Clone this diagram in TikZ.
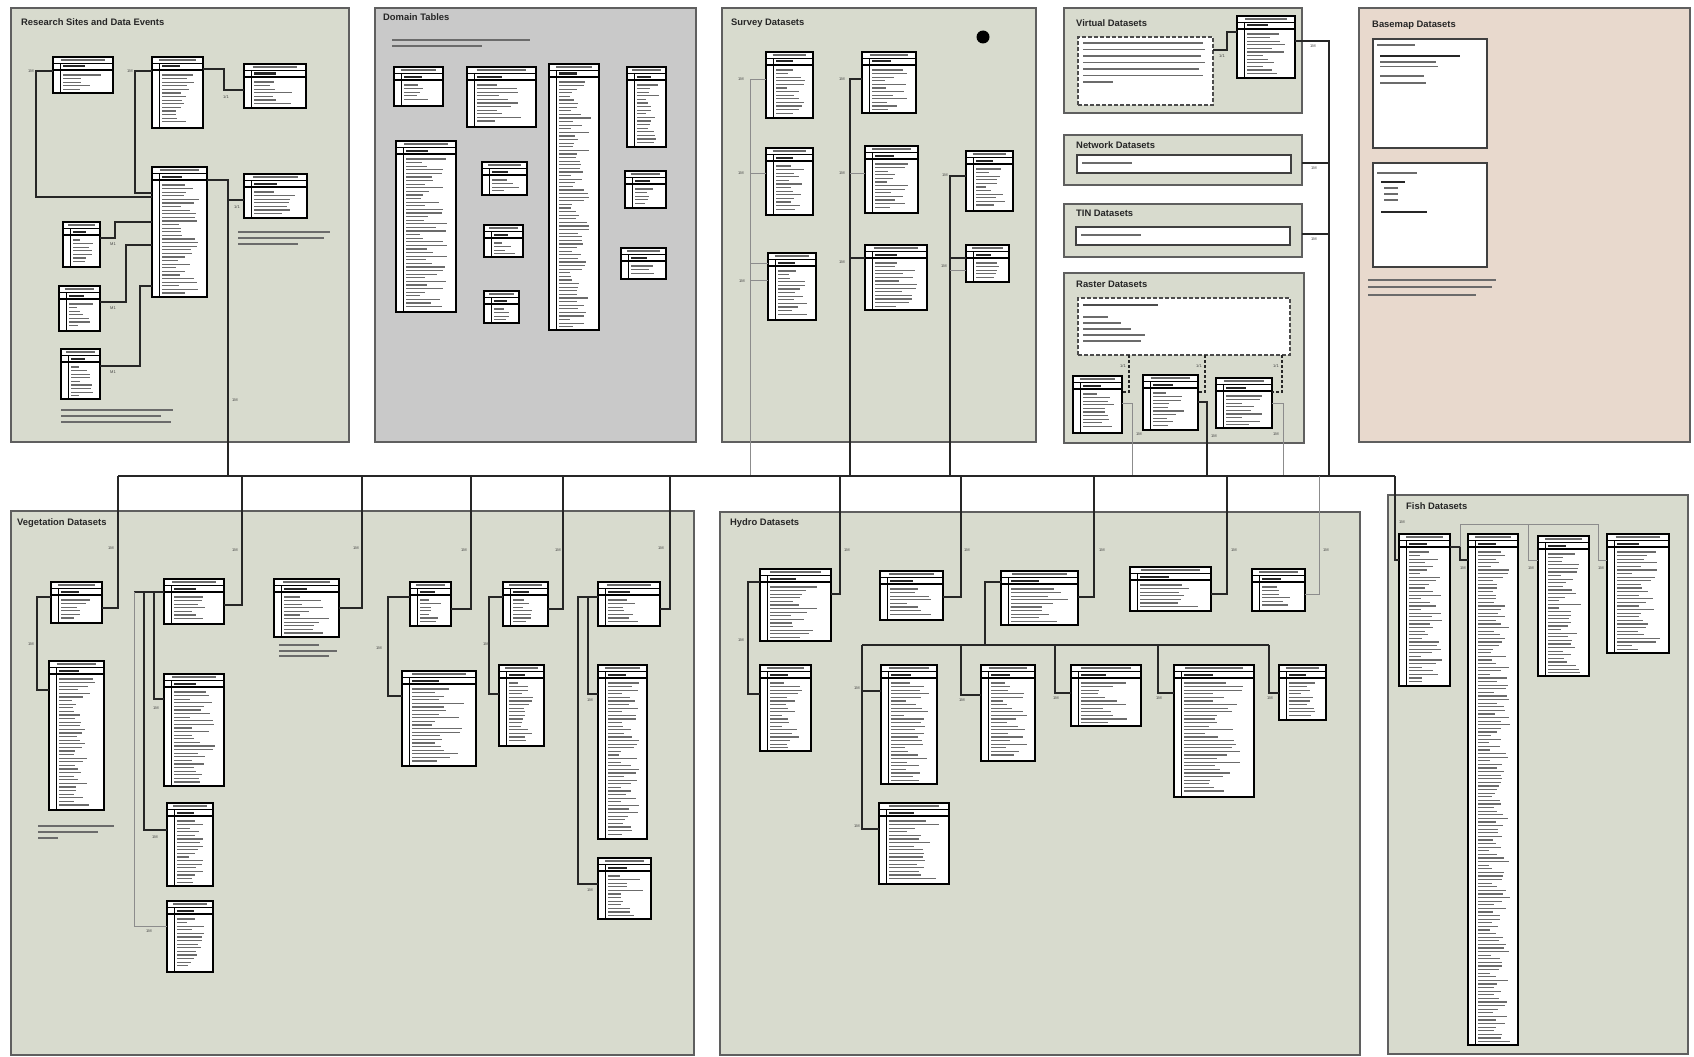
\documentclass[tikz,border=0pt]{standalone}
\usepackage{fontspec}
\setmainfont{Liberation Sans}
\usetikzlibrary{calc}
\definecolor{panelgreen}{RGB}{216,219,206}
\definecolor{domaingray}{RGB}{201,201,201}
\definecolor{basepink}{RGB}{232,217,205}
\definecolor{edgegray}{RGB}{95,95,95}
\tikzset{
  panel/.style={draw=edgegray, line width=1.6pt, inner sep=0pt, outer sep=0pt},
  ptitle/.style={anchor=north west, inner sep=0pt, font=\bfseries\fontsize{9.4}{11}\selectfont, text=black!85},
  tbox/.style={draw=black, line width=1.6pt, fill=white, inner sep=0pt, outer sep=0pt},
  txt/.style={line width=1.1pt, draw=black!58},
  conn/.style={draw=black!85, line width=1.1pt},
  lconn/.style={draw=black!45, line width=0.8pt},
  card/.style={font=\fontsize{4}{4}\selectfont, inner sep=0.5pt, text=black!75},
  wbox/.style={draw=black!75, line width=1.4pt, fill=white, inner sep=0pt, outer sep=0pt, anchor=north west},
  dnote/.style={draw=black!70, line width=1.4pt, dash pattern=on 4pt off 2pt, fill=white, inner sep=0pt, outer sep=0pt, anchor=north west},
}
\newcommand{\pnl}[6]{%
  \node[panel, fill=#6, anchor=north west, minimum width={(#4-#2)*1pt}, minimum height={(#5-#3)*1pt}] (#1) at (#2,#3) {};}
\newcommand{\tbl}[5]{%
  \node[tbox, anchor=north west, minimum width={(#4-#2)*1pt}, minimum height={(#5-#3)*1pt}] (#1) at (#2,#3) {};
  \draw[line width=0.7pt] (#2,#3+6) -- (#4,#3+6);
  \draw[line width=1.2pt] (#2,#3+13) -- (#4,#3+13);
  \draw[line width=0.7pt] (#2+7,#3+6) -- (#2+7,#5);
  \pgfmathsetmacro{\tblmid}{(#2+#4)/2}
  \pgfmathsetmacro{\tblhw}{(#4-#2)*0.36}
  \draw[txt, line width=1.2pt] (\tblmid-\tblhw,#3+3) -- (\tblmid+\tblhw,#3+3);
  \draw[line width=2pt, black!85] (#2+10,#3+9.5) -- (#2+10+\tblhw,#3+9.5);
  \pgfmathsetmacro{\tblya}{#3+18}
  \pgfmathsetmacro{\tblyb}{#3+21.6}
  \pgfmathsetmacro{\tblyc}{#5-3}
  \pgfmathsetmacro{\tblw}{#4-#2-14}
  \foreach \yy in {\tblya,\tblyb,...,\tblyc}{%
    \pgfmathsetmacro{\tbll}{\tblw*(0.3+0.6*rnd)}
    \draw[txt] (#2+10,\yy) -- ++(\tbll,0);
  }
}
\newcommand{\tl}[3]{\draw[txt] (#1,#2) -- ++(#3,0);}
\newcommand{\card}[4]{\node[card] (#1) at (#2,#3) {#4};}
\begin{document}
\begin{tikzpicture}[x=1pt,y=-1pt]
\pgfmathsetseed{7}
\useasboundingbox (0,0) rectangle (1694,1057);
\fill[white] (0,0) rectangle (1694,1057);

% ---------------- panels
\pnl{pResearch}{11}{8}{349}{442}{panelgreen}
\pnl{pDomain}{375}{8}{696}{442}{domaingray}
\pnl{pSurvey}{722}{8}{1036}{442}{panelgreen}
\pnl{pVirtual}{1064}{8}{1302}{113}{panelgreen}
\pnl{pNetwork}{1064}{135}{1302}{185}{panelgreen}
\pnl{pTIN}{1064}{204}{1302}{257}{panelgreen}
\pnl{pRaster}{1064}{273}{1304}{443}{panelgreen}
\pnl{pBasemap}{1359}{8}{1690}{442}{basepink}
\pnl{pVeg}{11}{511}{694}{1055}{panelgreen}
\pnl{pHydro}{720}{512}{1360}{1055}{panelgreen}
\pnl{pFish}{1388}{495}{1688}{1054}{panelgreen}

\node[ptitle] (tResearch) at (21,18) {Research Sites and Data Events};
\node[ptitle] (tDomain) at (383,13) {Domain Tables};
\node[ptitle] (tSurvey) at (731,19) {Survey Datasets};
\node[ptitle] (tVirtual) at (1076,19) {Virtual Datasets};
\node[ptitle] (tNetwork) at (1076,141) {Network Datasets};
\node[ptitle] (tTIN) at (1076,210) {TIN Datasets};
\node[ptitle] (tRaster) at (1076,281) {Raster Datasets};
\node[ptitle] (tBasemap) at (1372,21) {Basemap Datasets};
\node[ptitle] (tVeg) at (17,518) {Vegetation Datasets};
\node[ptitle] (tHydro) at (730,518) {Hydro Datasets};
\node[ptitle] (tFish) at (1406,502) {Fish Datasets};

% ---------------- Research sites
\tbl{rsA}{53}{57}{113}{93}
\tbl{rsB}{152}{57}{203}{128}
\tbl{rsC}{244}{64}{306}{108}
\tbl{rsD}{152}{167}{207}{297}
\tbl{rsE}{244}{174}{307}{218}
\tbl{rsF}{63}{222}{100}{267}
\tbl{rsG}{59}{286}{100}{331}
\tbl{rsH}{61}{349}{100}{399}
\draw[conn] (rsA.west |- 0,71) -- (36,71) -- (36,197) -- (rsD.west |- 0,197);
\card{c1}{31}{71}{1M}
\draw[conn] (rsB.west |- 0,71) -- (135,71) -- (135,193) -- (rsD.west |- 0,193);
\card{c2}{130}{71}{1M}
\draw[conn] (rsB.east |- 0,69) -- (224,69) -- (224,90) -- (rsC.west |- 0,90);
\card{c3}{226}{97}{1/1}
\draw[conn] (rsD.east |- 0,180) -- (228,180) -- (228,200) -- (rsE.west |- 0,200);
\card{c4}{237}{207}{1/1}
\draw[conn] (rsF.east |- 0,238) -- (115,238) -- (115,222) -- (rsD.west |- 0,222);
\card{c5}{113}{244}{M1}
\draw[conn] (rsG.east |- 0,302) -- (126,302) -- (126,245) -- (rsD.west |- 0,245);
\card{c6}{113}{308}{M1}
\draw[conn] (rsH.east |- 0,366) -- (140,366) -- (140,286) -- (rsD.west |- 0,286);
\card{c7}{113}{372}{M1}
\tl{238}{232}{92}\tl{238}{238}{86}\tl{238}{244}{60}
\tl{61}{410}{112}\tl{61}{416}{100}\tl{61}{422}{110}

% ---------------- Domain tables
\tl{392}{40}{138}\tl{392}{46}{90}
\tbl{dA}{394}{67}{443}{106}
\tbl{dB}{467}{67}{536}{127}
\tbl{dC}{549}{64}{599}{330}
\tbl{dD}{627}{67}{666}{147}
\tbl{dE}{396}{141}{456}{312}
\tbl{dF}{482}{162}{527}{195}
\tbl{dG}{484}{225}{523}{257}
\tbl{dH}{484}{291}{519}{323}
\tbl{dI}{625}{171}{666}{208}
\tbl{dJ}{621}{248}{666}{279}

% ---------------- Survey
\fill[black] (983,37) circle (6.5);
\node[inner sep=0pt] (dot) at (983,37) {};
\tbl{sA}{766}{52}{813}{118}
\tbl{sB}{766}{148}{813}{215}
\tbl{sC}{768}{253}{816}{320}
\tbl{sD}{862}{52}{916}{113}
\tbl{sE}{865}{146}{918}{213}
\tbl{sF}{865}{245}{927}{310}
\tbl{sG}{966}{151}{1013}{211}
\tbl{sH}{966}{245}{1009}{282}
\draw[lconn] (sA.west |- 0,79) -- (750,79) -- (750,476);
\draw[lconn] (sB.west |- 0,173) -- (750,173);
\draw[lconn] (sC.west |- 0,263) -- (750,263);
\draw[lconn] (sC.west |- 0,280) -- (750,280);
\card{c8}{741}{79}{1M}\card{c9}{741}{173}{1M}\card{c10}{742}{281}{1M}
\draw[conn] (sD.west |- 0,79) -- (850,79) -- (850,476);
\draw[lconn] (sE.west |- 0,173) -- (850,173);
\draw[conn] (sF.west |- 0,258) -- (850,258);
\card{c11}{842}{79}{1M}\card{c12}{842}{173}{1M}\card{c13}{842}{262}{1M}
\draw[conn] (sG.west |- 0,176) -- (950,176) -- (950,476);
\draw[conn] (sH.west |- 0,258) -- (950,258);
\draw[lconn] (sH.west |- 0,270) -- (950,270);
\card{c14}{945}{175}{1M}\card{c15}{944}{266}{1M}

% ---------------- Virtual / Network / TIN
\node[dnote, minimum width=135pt, minimum height=68pt] (vnote) at (1078,37) {};
\tl{1083}{43}{120}\tl{1083}{49.5}{122}\tl{1083}{56}{118}\tl{1083}{62.5}{122}\tl{1083}{69}{116}\tl{1083}{75.5}{120}\tl{1083}{82}{30}
\tbl{vT}{1237}{16}{1295}{78}
\draw[conn] (vnote.east |- 0,50) -- (1227,50) -- (1227,32) -- (vT.west |- 0,32);
\card{c16}{1222}{56}{1/1}
\draw[conn] (vT.east |- 0,41) -- (1329,41) -- (1329,476);
\card{c17}{1313}{46}{1M}
\node[wbox, minimum width=214pt, minimum height=18pt] (netbox) at (1077,155) {};
\tl{1082}{163}{50}
\draw[conn] (pNetwork.east |- 0,163) -- (1329,163);
\card{c18}{1314}{168}{1M}
\node[wbox, minimum width=214pt, minimum height=18pt] (tinbox) at (1076,227) {};
\tl{1081}{235}{60}
\draw[conn] (pTIN.east |- 0,234) -- (1329,234);
\card{c19}{1314}{239}{1M}

% ---------------- Raster
\node[dnote, minimum width=212pt, minimum height=57pt] (rnote) at (1078,298) {};
\draw[line width=1.2pt, black!70] (1083,305) -- ++(75,0);
\tl{1083}{317}{25}\tl{1083}{323}{38}\tl{1083}{329}{48}\tl{1083}{335}{62}\tl{1083}{341}{58}
\tbl{rA}{1073}{376}{1122}{433}
\tbl{rB}{1143}{375}{1198}{430}
\tbl{rC}{1216}{378}{1272}{428}
\draw[conn, dash pattern=on 3pt off 2pt] (rnote.south -| 1129,0) -- (1129,392) -- (rA.east |- 0,392);
\draw[conn, dash pattern=on 3pt off 2pt] (rnote.south -| 1205,0) -- (1205,392) -- (rB.east |- 0,392);
\draw[conn, dash pattern=on 3pt off 2pt] (rnote.south -| 1282,0) -- (1282,392) -- (rC.east |- 0,392);
\card{c20}{1123}{366}{1/1}\card{c21}{1199}{366}{1/1}\card{c22}{1276}{366}{1/1}
\draw[lconn] (rA.east |- 0,403) -- (1132,403) -- (1132,476);
\draw[conn] (rB.east |- 0,402) -- (1207,402) -- (1207,476);
\draw[lconn] (rC.east |- 0,403) -- (1283,403) -- (1283,476);
\card{c23}{1139}{434}{1M}\card{c24}{1214}{436}{1M}\card{c25}{1276}{434}{1M}

% ---------------- Basemap
\node[wbox, minimum width=114pt, minimum height=109pt] (bmA) at (1373,39) {};
\node[wbox, minimum width=114pt, minimum height=104pt] (bmB) at (1373,163) {};
\tl{1377}{45}{38}
\draw[line width=1.5pt, black!85] (1380,56) -- ++(80,0);
\tl{1380}{62}{56}\tl{1380}{66.5}{58}\tl{1380}{76}{44}\tl{1380}{83}{46}
\tl{1377}{173}{40}
\draw[line width=1.4pt, black!85] (1381,182) -- ++(24,0);
\tl{1384}{188}{14}\tl{1384}{194}{14}\tl{1384}{200}{14}
\draw[line width=1.4pt, black!85] (1381,212) -- ++(46,0);
\tl{1368}{280}{128}\tl{1368}{287}{124}\tl{1368}{295}{108}

% ---------------- bus
\coordinate (busL) at (118,476);
\coordinate (busR) at (1395,476);
\draw[conn] (busL) -- (busR);
\draw[conn] (228,200) -- (228,476);
\card{c26}{235}{400}{1M}

% ---------------- Vegetation
\tbl{vA}{51}{582}{102}{623}
\tbl{vB}{49}{661}{104}{810}
\tbl{vC}{164}{579}{224}{624}
\tbl{vD}{164}{674}{224}{786}
\tbl{vE}{167}{803}{213}{886}
\tbl{vF}{167}{901}{213}{972}
\tbl{vG}{274}{579}{339}{637}
\tbl{vH}{410}{582}{451}{626}
\tbl{vI}{402}{671}{476}{766}
\tbl{vJ}{503}{582}{548}{626}
\tbl{vK}{499}{665}{544}{746}
\tbl{vL}{598}{582}{660}{626}
\tbl{vM}{598}{665}{647}{839}
\tbl{vN}{598}{858}{651}{919}
\draw[conn] (vA.east |- 0,608) -- (118,608) -- (busL);
\draw[conn] (vC.east |- 0,605) -- (242,605) -- (242,476);
\draw[conn] (vG.east |- 0,608) -- (362,608) -- (362,476);
\draw[conn] (vH.east |- 0,609) -- (471,609) -- (471,476);
\draw[conn] (vJ.east |- 0,609) -- (563,609) -- (563,476);
\draw[conn] (vL.east |- 0,609) -- (670,609) -- (670,476);
\card{c27}{111}{548}{1M}\card{c28}{235}{550}{1M}\card{c29}{356}{548}{1M}
\card{c30}{464}{550}{1M}\card{c31}{558}{550}{1M}\card{c32}{661}{548}{1M}
\draw[conn] (vA.west |- 0,597) -- (37,597) -- (37,690) -- (vB.west |- 0,690);
\card{c33}{31}{644}{1M}
\draw[conn] (vC.west |- 0,592) -- (134,592);
\draw[conn] (154,592) -- (154,699) -- (vD.west |- 0,699);
\card{c34}{156}{708}{1M}
\draw[conn] (144,592) -- (144,830) -- (vE.west |- 0,830);
\card{c35}{155}{837}{1M}
\draw[lconn] (134,592) -- (134,926) -- (vF.west |- 0,926);
\card{c36}{149}{931}{1M}
\tl{279}{645}{40}\tl{279}{651}{58}\tl{279}{656}{50}
\tl{38}{826}{76}\tl{38}{832}{60}\tl{38}{838}{20}
\draw[conn] (vH.west |- 0,597) -- (388,597) -- (388,696) -- (vI.west |- 0,696);
\card{c37}{379}{648}{1M}
\draw[conn] (vJ.west |- 0,597) -- (489,597) -- (489,694) -- (vK.west |- 0,694);
\card{c38}{486}{644}{1M}
\draw[conn] (vL.west |- 0,597) -- (578,597) -- (578,884) -- (vN.west |- 0,884);
\draw[conn] (588,597) -- (588,694) -- (vM.west |- 0,694);
\card{c39}{590}{700}{1M}\card{c40}{590}{890}{1M}

% ---------------- Hydro
\tbl{hA}{760}{569}{831}{641}
\tbl{hB}{880}{571}{943}{620}
\tbl{hC}{1001}{571}{1078}{625}
\tbl{hD}{1130}{567}{1211}{611}
\tbl{hE}{1252}{569}{1305}{611}
\tbl{hF}{760}{665}{811}{751}
\tbl{hG}{881}{665}{937}{784}
\tbl{hH}{981}{665}{1035}{761}
\tbl{hI}{1071}{665}{1141}{726}
\tbl{hJ}{1174}{665}{1254}{797}
\tbl{hK}{1279}{665}{1326}{720}
\tbl{hL}{879}{803}{949}{884}
\draw[conn] (hA.east |- 0,594) -- (840,594) -- (840,476);
\draw[conn] (hB.east |- 0,597) -- (961,597) -- (961,476);
\draw[conn] (hC.east |- 0,597) -- (1094,597) -- (1094,476);
\draw[conn] (hD.east |- 0,594) -- (1227,594) -- (1227,476);
\draw[lconn] (hE.east |- 0,594) -- (1319,594) -- (1319,476);
\card{c41}{847}{550}{1M}\card{c42}{967}{550}{1M}\card{c43}{1102}{550}{1M}
\card{c44}{1234}{550}{1M}\card{c45}{1326}{550}{1M}
\draw[conn] (hA.west |- 0,582) -- (748,582) -- (748,694) -- (hF.west |- 0,694);
\card{c46}{741}{640}{1M}
\draw[conn] (hC.west |- 0,582) -- (985,582) -- (985,645);
\draw[conn] (862,645) -- (1269,645);
\draw[conn] (862,645) -- (862,829) -- (hL.west |- 0,829);
\draw[conn] (862,691) -- (hG.west |- 0,691);
\draw[conn] (961,645) -- (961,695) -- (hH.west |- 0,695);
\draw[conn] (1055,645) -- (1055,693) -- (hI.west |- 0,693);
\draw[conn] (1158,645) -- (1158,693) -- (hJ.west |- 0,693);
\draw[conn] (1269,645) -- (1269,693) -- (hK.west |- 0,693);
\card{c47}{857}{688}{1M}\card{c48}{857}{826}{1M}\card{c49}{962}{700}{1M}
\card{c50}{1056}{698}{1M}\card{c51}{1159}{698}{1M}\card{c52}{1270}{698}{1M}

% ---------------- Fish
\tbl{fA}{1399}{534}{1450}{686}
\tbl{fB}{1468}{534}{1518}{1045}
\tbl{fC}{1538}{536}{1589}{676}
\tbl{fD}{1607}{534}{1669}{653}
\draw[conn] (busR) -- (1395,560) -- (fA.west |- 0,560);
\card{c53}{1402}{522}{1M}
\draw[conn] (fA.east |- 0,547) -- (1460,547) -- (1460,560) -- (fB.west |- 0,560);
\draw[lconn] (1460,547) -- (1460,524) -- (1598,524) -- (1598,560) -- (fD.west |- 0,560);
\draw[lconn] (1528,524) -- (1528,560) -- (fC.west |- 0,560);
\card{c54}{1463}{568}{1M}\card{c55}{1531}{568}{1M}\card{c56}{1601}{568}{1M}
\end{tikzpicture}
\end{document}
